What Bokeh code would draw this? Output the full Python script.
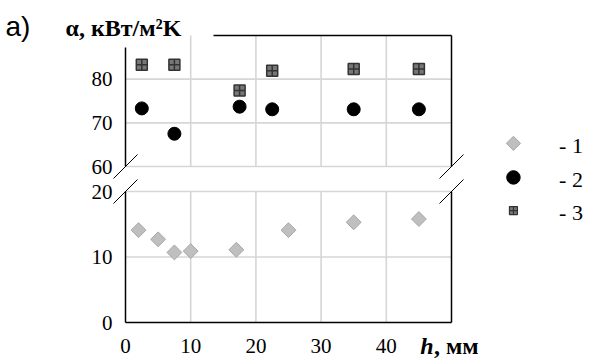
import math
from bokeh.plotting import figure
from bokeh.models import Range1d, FixedTicker, LinearAxis
from bokeh.core.properties import value
from bokeh.embed import file_html
from bokeh.resources import INLINE

# ---- data ----
x_ticks = [0, 10, 20, 30, 40]
x_grid = [10, 20, 30, 40]
top_ticks = [60, 70, 80]
bottom_ticks = [0, 10, 20]
x_lim = (0, 50)
top_lim = (60, 90)
bottom_lim = (0, 20)

s1_x = [2, 5, 7.5, 10, 17, 25, 35, 45]
s1_y = [14.1, 12.7, 10.7, 10.9, 11.1, 14.1, 15.3, 15.8]

s2_x = [2.5, 7.5, 17.5, 22.5, 35, 45]
s2_y = [73.3, 67.5, 73.7, 73.1, 73.1, 73.1]

s3_x = [2.5, 7.5, 17.5, 22.5, 35, 45]
s3_y = [83.3, 83.3, 77.4, 81.9, 82.3, 82.3]

legend_labels = ["- 1", "- 2", "- 3"]

# ---- layout geometry (canvas pixels) ----
W, H = 590, 361
XL_PX, XR_PX = 125, 451          # x = 0 .. 50
TOP_PX = (166, 35)               # y = 60 .. 90
BOT_PX = (322, 191)              # y = 0 .. 20


def lin_range(v0, v1, p0, p1, pmin, pmax):
    k = (p1 - p0) / (v1 - v0)
    a = v0 + (pmin - p0) / k
    b = v0 + (pmax - p0) / k
    return (min(a, b), max(a, b))


xr = lin_range(0, 50, XL_PX, XR_PX, 0, W)
yr_bot = lin_range(0, 20, BOT_PX[0], BOT_PX[1], 0, H)
yr_top = lin_range(60, 90, TOP_PX[0], TOP_PX[1], 0, H)

kx = (XR_PX - XL_PX) / 50
kt = (TOP_PX[0] - TOP_PX[1]) / 30
kb = (BOT_PX[0] - BOT_PX[1]) / 20

FONT = "Liberation Serif"
GRID = "#d6d6d6"

p = figure(output_backend="svg", toolbar_location=None, width=W, height=H,
           x_range=Range1d(*xr), y_range=Range1d(*yr_bot),
           x_axis_type=None, y_axis_type=None, min_border=0,
           outline_line_color=None, background_fill_color="white",
           border_fill_color="white")
p.extra_y_ranges = {"top": Range1d(*yr_top)}


def style_axis(ax, standoff):
    ax.axis_line_color = "black"
    ax.axis_line_width = 1.5
    ax.major_tick_line_color = None
    ax.minor_tick_line_color = None
    ax.major_tick_out = 0
    ax.major_tick_in = 0
    ax.minor_tick_out = 0
    ax.minor_tick_in = 0
    ax.major_label_text_font = FONT
    ax.major_label_text_font_size = "21px"
    ax.major_label_text_color = "black"
    ax.major_label_standoff = standoff


# ---- grid lines (under everything) ----
p.segment(x0=x_grid, x1=x_grid, y0=[bottom_lim[0]] * 4, y1=[bottom_lim[1]] * 4,
          line_color=GRID, line_width=1.6, level="underlay")
p.segment(x0=x_grid, x1=x_grid, y0=[top_lim[0]] * 4, y1=[top_lim[1]] * 4,
          line_color=GRID, line_width=1.6, level="underlay", y_range_name="top")
p.segment(x0=[x_lim[0]] * 2, x1=[x_lim[1]] * 2, y0=bottom_ticks[1:],
          y1=bottom_ticks[1:], line_color=GRID, line_width=1.6, level="underlay")
p.segment(x0=[x_lim[0]] * 3, x1=[x_lim[1]] * 3, y0=top_ticks, y1=top_ticks,
          line_color=GRID, line_width=1.6, level="underlay", y_range_name="top")

# ---- axes ----
xax = LinearAxis(ticker=FixedTicker(ticks=x_ticks), fixed_location=0,
                 bounds=x_lim)
style_axis(xax, 16)
p.add_layout(xax, "below")

yb = LinearAxis(ticker=FixedTicker(ticks=bottom_ticks), fixed_location=0,
                bounds=bottom_lim)
style_axis(yb, 13)
p.add_layout(yb, "left")

yt = LinearAxis(ticker=FixedTicker(ticks=top_ticks), fixed_location=0,
                bounds=(60, 87.2), y_range_name="top")
style_axis(yt, 13)
p.add_layout(yt, "left")

# ---- frame borders (right and top) ----
p.segment(x0=[50], x1=[50], y0=[bottom_lim[0]], y1=[bottom_lim[1]],
          line_color="black", line_width=1.5)
p.segment(x0=[50, 13.5], x1=[50, 50], y0=[top_lim[0], top_lim[1]],
          y1=[top_lim[1], top_lim[1]], line_color="black", line_width=1.5,
          y_range_name="top")

# ---- axis break marks ----
dx = 12 / kx
p.segment(x0=[0 - dx, 50 - dx], x1=[0 + dx, 50 + dx],
          y0=[60 - 12 / kt] * 2, y1=[60 + 12 / kt] * 2,
          line_color="black", line_width=1, y_range_name="top")
p.segment(x0=[0 - dx, 50 - dx], x1=[0 + dx, 50 + dx],
          y0=[20 - 12 / kb] * 2, y1=[20 + 12 / kb] * 2,
          line_color="black", line_width=1)

# ---- series ----
p.scatter(s1_x, s1_y, marker="square", angle=math.pi / 4, size=10.5,
          fill_color="#bfbfbf", line_color="#a6a6a6", line_width=1)
p.scatter(s3_x, s3_y, marker="square_cross", size=11, fill_color="#777777",
          line_color="#333333", line_width=1.5, y_range_name="top")
p.scatter(s2_x, s2_y, marker="circle", size=13, fill_color="black",
          line_color="black", y_range_name="top")

# ---- texts ----
p.text(x=[-18.4], y=[92.0], text=["а)"], text_font=value("Liberation Sans"),
       text_font_size="28px", text_baseline="middle", text_color="black",
       y_range_name="top")
p.text(x=[-9.2], y=[91.75], text=["α, кВт/м²K"], text_font=value(FONT),
       text_font_style="bold", text_font_size="24px",
       text_baseline="middle", text_color="black", y_range_name="top")
p.text(x=[45.2], y=[-3.6], text=["h"], text_font=value(FONT),
       text_font_style="bold italic", text_font_size="24px",
       text_baseline="middle", text_color="black")
p.text(x=[47.3], y=[-3.6], text=[", мм"], text_font=value(FONT),
       text_font_style="bold", text_font_size="24px",
       text_baseline="middle", text_color="black")

# ---- legend (top-range coordinates) ----
leg_x = 59.5
leg_lab_x = 66.5
leg_y = [65.3, 57.5, 49.9]
p.scatter([leg_x], leg_y[0:1], marker="square", angle=math.pi / 4, size=10,
          fill_color="#bfbfbf", line_color="#a6a6a6", y_range_name="top")
p.scatter([leg_x], leg_y[1:2], marker="circle", size=13.5, fill_color="black",
          line_color="black", y_range_name="top")
p.scatter([leg_x], leg_y[2:3], marker="square_cross", size=8,
          fill_color="#777777", line_color="#333333", line_width=1.2,
          y_range_name="top")
p.text(x=[leg_lab_x] * 3, y=[v - 0.5 for v in leg_y], text=legend_labels,
       text_font=value(FONT), text_font_size="22px", text_baseline="middle",
       text_color="black", y_range_name="top")

open("out.html", "w").write(file_html(p, INLINE))
